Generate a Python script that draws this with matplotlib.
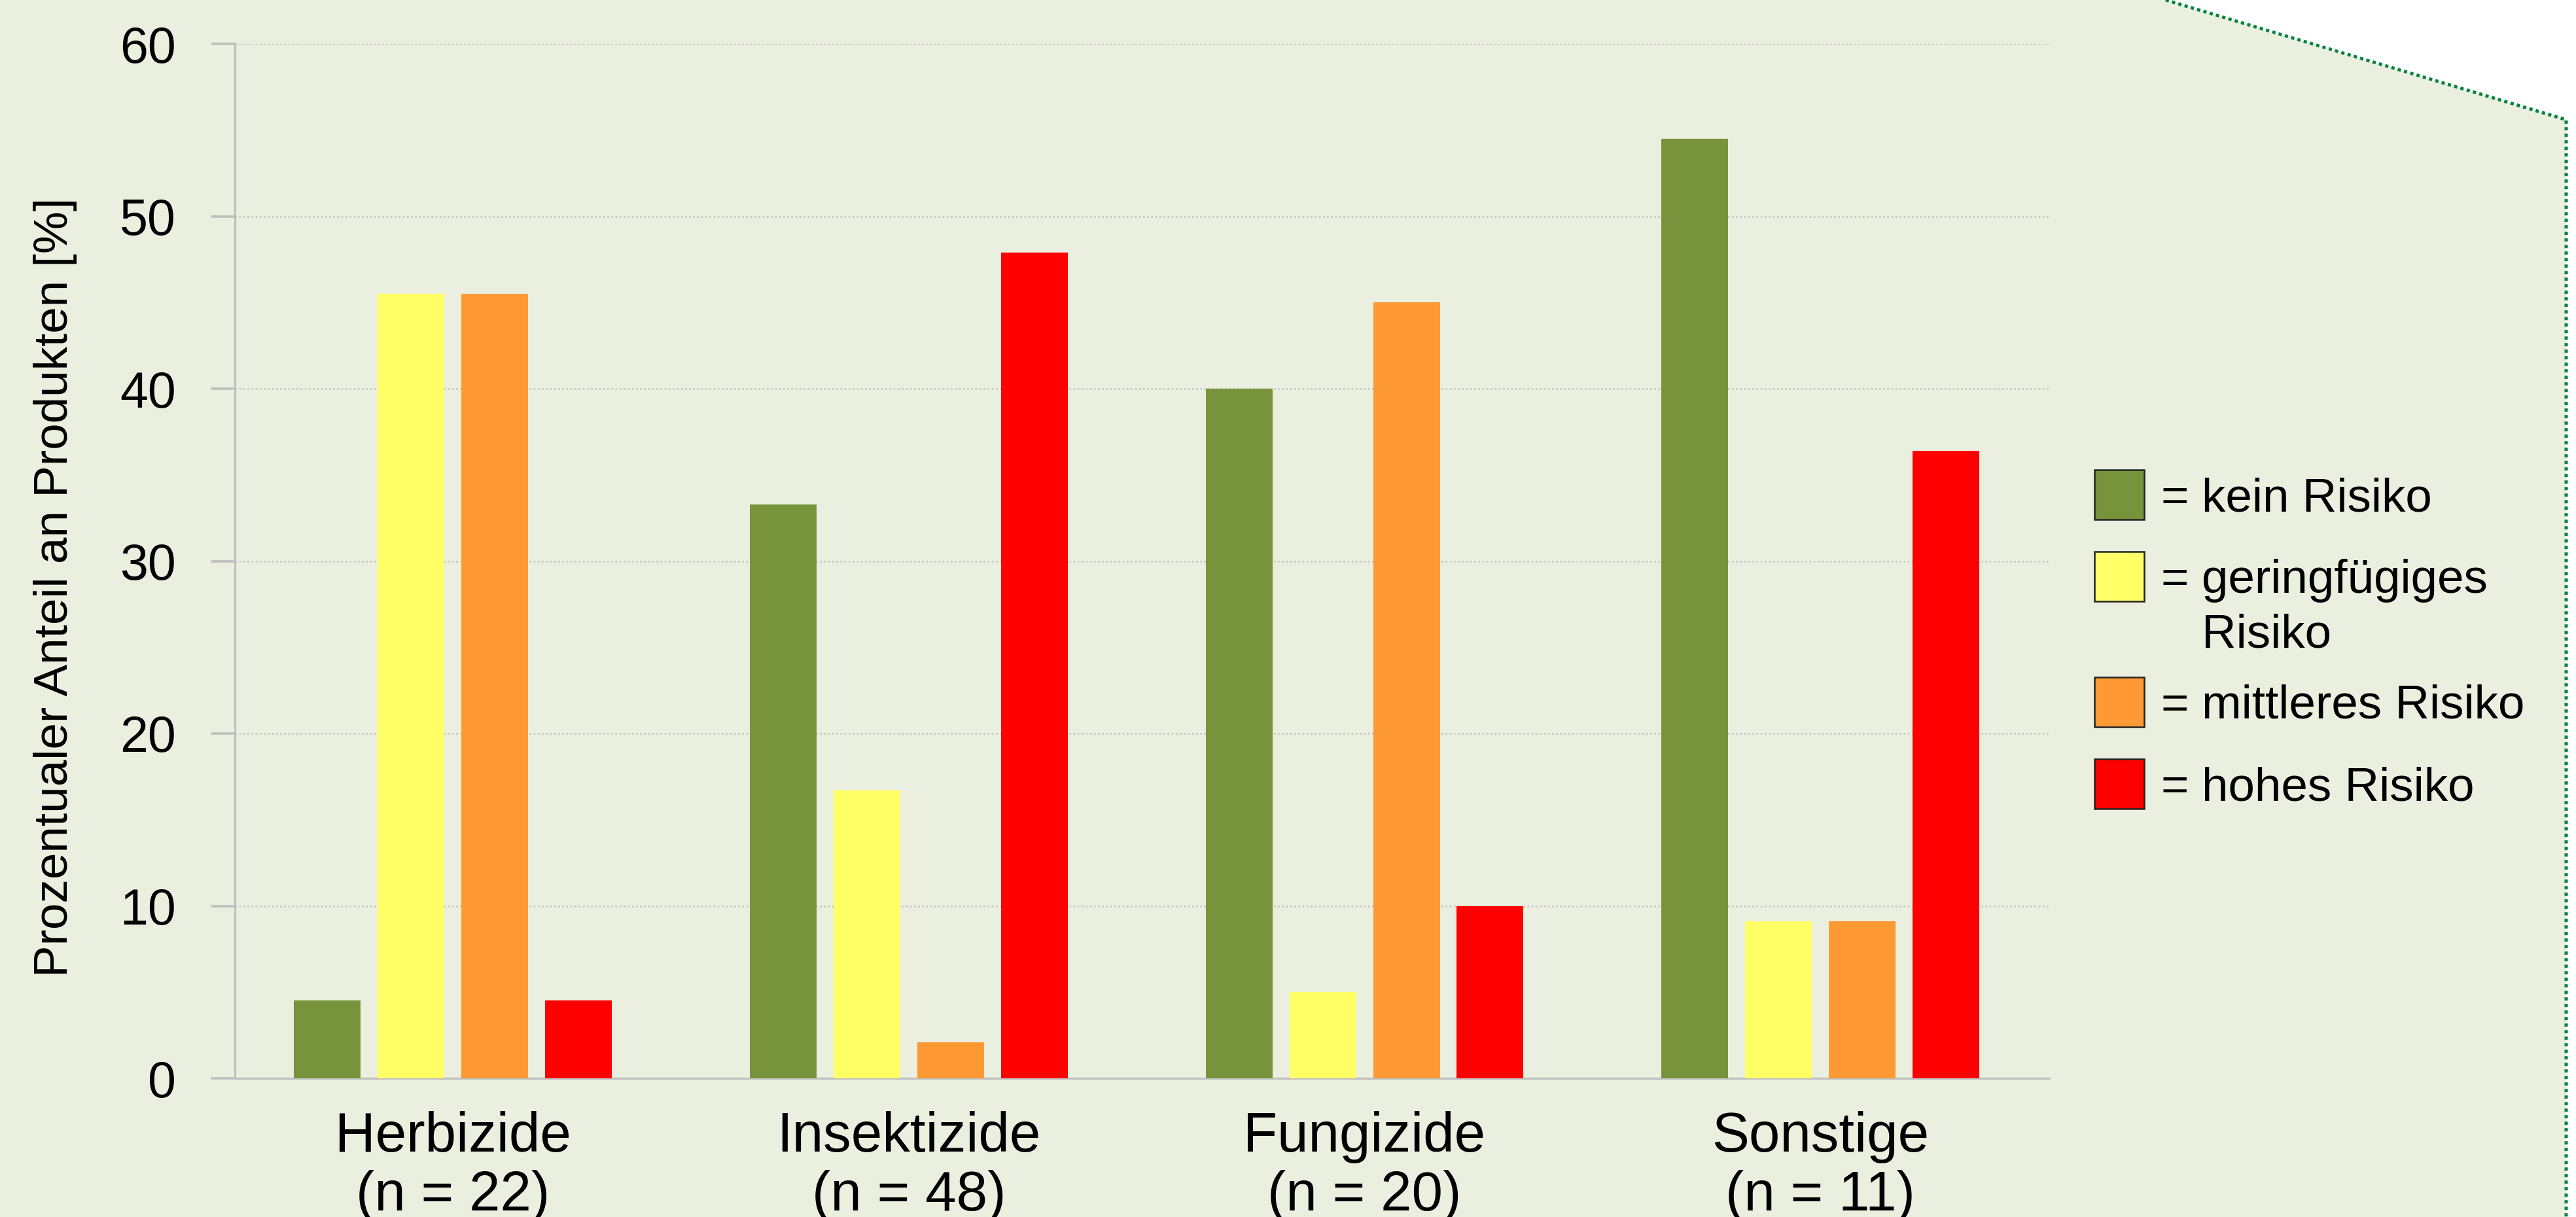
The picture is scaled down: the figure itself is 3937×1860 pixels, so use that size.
import numpy as np
import matplotlib
matplotlib.use("Agg")
import matplotlib.pyplot as plt
from matplotlib.patches import Rectangle, Polygon
from matplotlib.lines import Line2D

plt.rcParams['font.family'] = ['Liberation Sans', 'DejaVu Sans']

categories = ["Herbizide", "Insektizide", "Fungizide", "Sonstige"]
n_values = [22, 48, 20, 11]
risk_labels = ["kein Risiko", "geringfügiges\nRisiko", "mittleres Risiko", "hohes Risiko"]

kein = [4.5, 33.3, 40.0, 54.5]
gering = [45.5, 16.7, 5.0, 9.1]
mittel = [45.5, 2.1, 45.0, 9.1]
hoch = [4.5, 47.9, 10.0, 36.4]

colors = ["#77933C", "#FFFF66", "#FF9933", "#FF0000"]
bg = "#EBEFDF"
grey = "#C0C0C0"

W, H = 3937, 1860
fig = plt.figure(figsize=(W / 300, H / 300), dpi=300, facecolor=bg)


def fx(px):
    return px / W


def fy(py):
    return 1 - py / H


# white corner outside the dotted border
fig.patches.append(Polygon([(fx(3310), fy(0)), (fx(3922), fy(183)), (fx(3922), fy(H)),
                            (fx(W), fy(H)), (fx(W), fy(0))],
                           closed=True, transform=fig.transFigure, facecolor="white",
                           edgecolor="none", zorder=0))
fig.lines.append(Line2D([fx(3310), fx(3922), fx(3922)], [fy(0), fy(183), fy(H)],
                        transform=fig.transFigure, color="#00843D", lw=1.2,
                        linestyle=(0, (1, 1)), dash_capstyle="butt", zorder=1))

ax = fig.add_axes([fx(359), fy(1648), fx(3132) - fx(359), fy(67) - fy(1648)])
ax.set_facecolor("none")

x = np.arange(len(categories))
step = 0.1837
width = 0.1464
series = [kein, gering, mittel, hoch]
for i, (vals, c) in enumerate(zip(series, colors)):
    ax.bar(x + (i - 1.5) * step, vals, width=width, color=c, edgecolor="none", zorder=3)

ax.set_xlim(-0.478, 3.502)
ax.set_ylim(0, 60)
ax.set_yticks(range(0, 61, 10))
ax.set_xticks(x)
ax.set_xticklabels([f"{c}\n(n = {n})" for c, n in zip(categories, n_values)],
                   fontsize=20.5, linespacing=1.16)
ax.tick_params(axis="x", length=0, pad=12)
ax.tick_params(axis="y", length=8.6, width=0.9, color=grey, pad=13, labelsize=18.5)

ax.yaxis.grid(True, color=grey, lw=0.6, linestyle=(0, (1, 1.5)))
ax.set_axisbelow(True)
for s in ["top", "right"]:
    ax.spines[s].set_visible(False)
for s in ["left", "bottom"]:
    ax.spines[s].set_color(grey)
    ax.spines[s].set_linewidth(0.8)

ax.set_ylabel("Prozentualer Anteil an Produkten [%]", fontsize=17.5)
ax.yaxis.set_label_coords(-0.087, 0.475)

# legend drawn by hand
tops = [718, 843, 1035, 1160]
for top, c, lab in zip(tops, colors, risk_labels):
    fig.patches.append(Rectangle((fx(3201), fy(top + 76)), fx(76), 76 / H,
                                 transform=fig.transFigure, facecolor=c,
                                 edgecolor="#222222", lw=0.6))
    lines = lab.split("\n")
    fig.text(fx(3302), fy(top + 63), "=", fontsize=17.5, va="baseline", ha="left")
    fig.text(fx(3365), fy(top + 63), lines[0], fontsize=17.5, va="baseline", ha="left")
    for k, extra in enumerate(lines[1:], start=1):
        fig.text(fx(3365), fy(top + 63 + 84 * k), extra, fontsize=17.5, va="baseline", ha="left")

fig.savefig("out.png", dpi=300, facecolor=bg)
